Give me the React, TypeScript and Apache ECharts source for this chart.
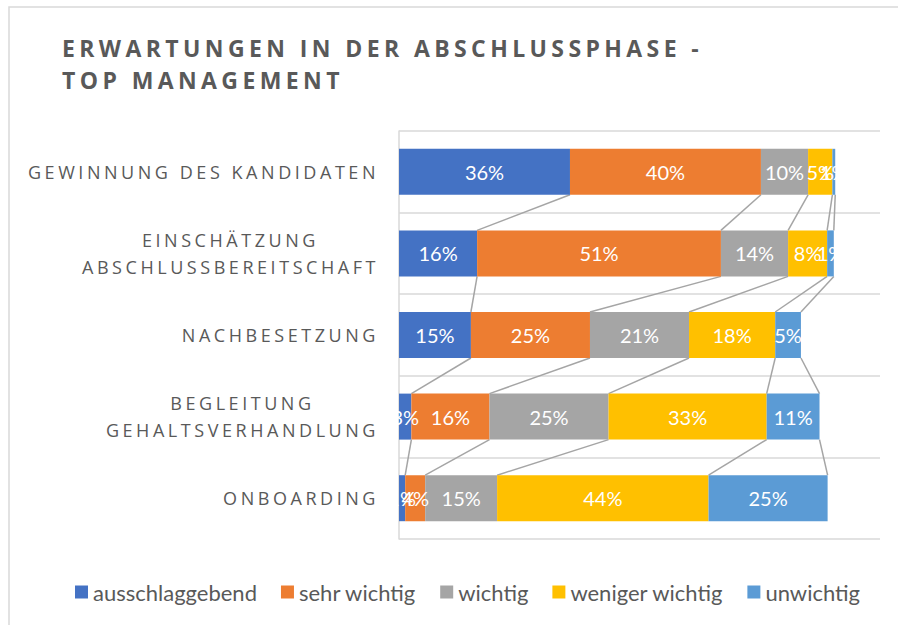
import React, { useEffect, useRef } from 'react';
import * as echarts from 'echarts';

const categories = [
  'GEWINNUNG DES KANDIDATEN',
  'EINSCHÄTZUNG\nABSCHLUSSBEREITSCHAFT',
  'NACHBESETZUNG',
  'BEGLEITUNG\nGEHALTSVERHANDLUNG',
  'ONBOARDING',
];
const seriesNames = ['ausschlaggebend', 'sehr wichtig', 'wichtig', 'weniger wichtig', 'unwichtig'];
const ausschlaggebend = [35.9, 16.4, 15.1, 2.6, 1.3];
const sehrWichtig = [40.1, 51.2, 25.0, 16.4, 4.2];
const wichtig = [9.9, 14.1, 20.8, 25.0, 15.1];
const wenigerWichtig = [5.1, 8.2, 18.1, 33.2, 44.4];
const unwichtig = [0.6, 1.4, 5.4, 11.1, 25.0];
const colors = ['#4472C4', '#ED7D31', '#A5A5A5', '#FFC000', '#5B9BD5'];
const titleText = 'ERWARTUNGEN IN DER ABSCHLUSSPHASE -\nTOP MANAGEMENT';

const valuesBySeries = [ausschlaggebend, sehrWichtig, wichtig, wenigerWichtig, unwichtig];

const BAR = 46;
const AXIS_FONT = 18;
const AXIS_LS = 3.55;
const TITLE_FONT = 23;
const TITLE_LS = 4.4;

const css = `
.chart-host text[style*="Open Sans"] { letter-spacing: ${AXIS_LS}px; }
.chart-host text[style*="bold"] { letter-spacing: ${TITLE_LS}px; }
`;

function measure(s: string): number {
  const c = document.createElement('canvas').getContext('2d')!;
  c.font = `${AXIS_FONT}px "Open Sans"`;
  return c.measureText(s).width + s.length * AXIS_LS;
}

export default function App() {
  const ref = useRef<HTMLDivElement>(null);
  useEffect(() => {
    const chart = echarts.init(ref.current!, null, { renderer: 'svg' });
    const cumulative = categories.map((_, c) => {
      let s = 0;
      return valuesBySeries.map((v) => (s += v[c]));
    });

    const barSeries = seriesNames.map((name, k) => ({
      name,
      type: 'bar',
      stack: 'total',
      barWidth: BAR,
      data: valuesBySeries[k],
      itemStyle: { color: colors[k] },
      label: {
        show: true,
        position: 'inside',
        color: '#FFFFFF',
        fontFamily: 'Lato',
        fontSize: 20,
        textBorderWidth: 0,
        formatter: (p: any) => `${Math.round(p.value)}%`,
      },
      emphasis: { disabled: true },
      z: 3,
    }));

    const lineSeries = {
      type: 'custom',
      name: 'serieslines',
      silent: true,
      z: 2,
      encode: { x: 0, y: 1 },
      data: categories.slice(0, -1).map((_, i) => [0, i]),
      renderItem: (params: any, api: any) => {
        const i = api.value(1);
        const children = cumulative[i].map((x1, s) => {
          const p1 = api.coord([x1, i]);
          const p2 = api.coord([cumulative[i + 1][s], i + 1]);
          return {
            type: 'line',
            shape: { x1: p1[0], y1: p1[1] + BAR / 2, x2: p2[0], y2: p2[1] - BAR / 2 },
            style: { stroke: '#A5A5A5', lineWidth: 1.5 },
          };
        });
        return { type: 'group', children };
      },
    };

    const rich: Record<string, any> = {};
    categories.forEach((c, idx) => {
      const lines = c.split('\n');
      rich['c' + idx] = {
        width: Math.max(...lines.map(measure)),
        align: 'center',
        fontFamily: 'Open Sans',
        fontSize: AXIS_FONT,
        lineHeight: 27,
        color: '#595959',
      };
    });
    const axisFormatter = (value: string, index: number) => {
      if (value.indexOf('\n') < 0) return value;
      return value
        .split('\n')
        .map((l) => `{c${index}|${l}}`)
        .join('\n');
    };

    chart.setOption({
      animation: false,
      backgroundColor: '#FFFFFF',
      title: {
        text: titleText,
        left: 62,
        top: 32,
        padding: 0,
        textStyle: {
          fontFamily: 'Open Sans',
          fontWeight: 'bold',
          fontSize: TITLE_FONT,
          lineHeight: 32,
          color: '#595959',
        },
      },
      legend: {
        data: seriesNames,
        left: 75,
        top: 581,
        padding: 0,
        icon: 'rect',
        itemWidth: 13,
        itemHeight: 13,
        itemGap: 24,
        selectedMode: false,
        textStyle: { fontFamily: 'Lato', fontSize: 22, color: '#595959' },
      },
      grid: { left: 399, top: 131, right: 18, bottom: 86, containLabel: false },
      xAxis: { type: 'value', min: 0, max: 101, show: false },
      yAxis: {
        type: 'category',
        inverse: true,
        data: categories,
        axisTick: { show: false },
        axisLine: { show: true, lineStyle: { color: '#D9D9D9', width: 1.5 } },
        splitLine: { show: true, lineStyle: { color: '#D9D9D9', width: 1.5 } },
        axisLabel: {
          interval: 0,
          margin: 20,
          color: '#595959',
          fontFamily: 'Open Sans',
          fontSize: AXIS_FONT,
          lineHeight: 27,
          formatter: axisFormatter,
          rich,
        },
      },
      graphic: [
        {
          type: 'rect',
          silent: true,
          z: -10,
          shape: { x: 9, y: 7, width: 900, height: 640 },
          style: { fill: 'none', stroke: '#D9D9D9', lineWidth: 1.5 },
        },
      ],
      series: [lineSeries, ...barSeries],
    });
    return () => chart.dispose();
  }, []);

  return (
    <div style={{ position: 'fixed', left: 0, top: 0, width: 898, height: 625, background: '#fff' }}>
      <style>{css}</style>
      <div ref={ref} className="chart-host" style={{ width: 898, height: 625 }} />
    </div>
  );
}
